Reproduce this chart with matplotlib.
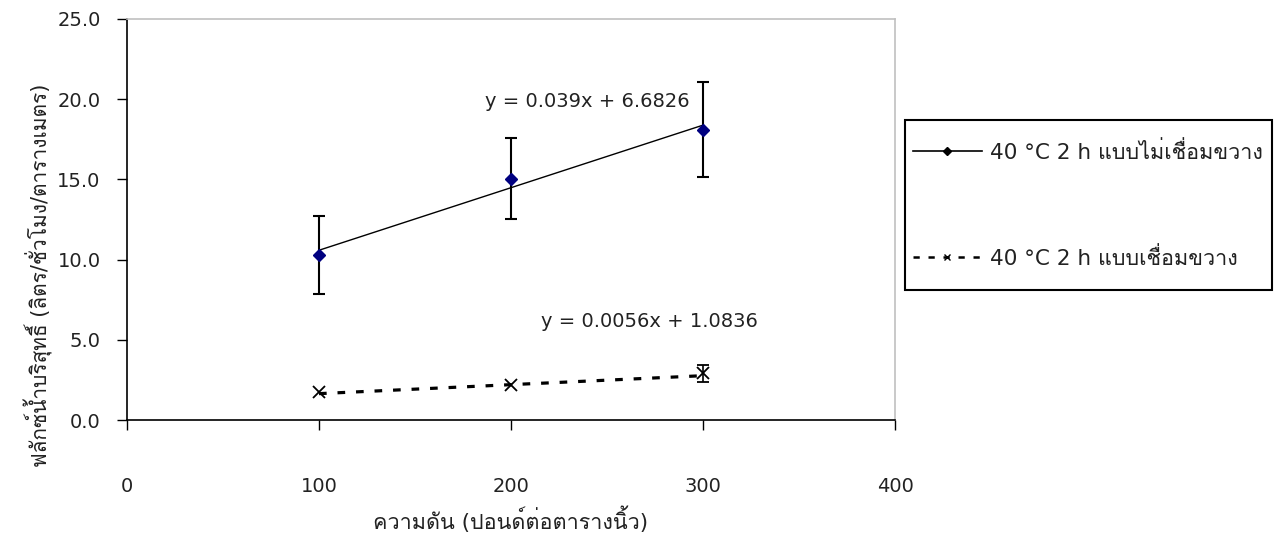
import matplotlib
matplotlib.use("Agg")
import matplotlib.pyplot as plt
from matplotlib import font_manager
from matplotlib.ft2font import FT2Font
from matplotlib.lines import Line2D
from matplotlib.patches import Rectangle


def find_thai_fonts():
    names = []
    for f in font_manager.fontManager.ttflist:
        try:
            cmap = FT2Font(f.fname).get_charmap()
        except Exception:
            continue
        if 0x0E01 in cmap and 0x0E49 in cmap and f.name not in names:
            names.append(f.name)
    return names


thai_fonts = find_thai_fonts()
FAMILY = ["DejaVu Sans"] + thai_fonts[:1]
plt.rcParams["font.family"] = FAMILY

# pressure (psi)
pressure = [100, 200, 300]

# pure water flux, non-crosslinked membrane
flux_nc = [10.3, 15.05, 18.1]
err_nc = [2.43, 2.53, 2.98]
slope_nc, icpt_nc = 0.039, 6.6826

# pure water flux, crosslinked membrane
flux_c = [1.75, 2.18, 2.91]
err_c = [0.0, 0.0, 0.53]
slope_c, icpt_c = 0.0056, 1.0836

label_nc = "40 °C 2 h แบบไม่เชื่อมขวาง"
label_c = "40 °C 2 h แบบเชื่อมขวาง"
eq_nc = "y = 0.039x + 6.6826"
eq_c = "y = 0.0056x + 1.0836"
xlabel = "ความดัน (ปอนด์ต่อตารางนิ้ว)"
ylabel = "ฟลักซ์น้ำบริสุทธิ์ (ลิตร/ชั่วโมง/ตารางเมตร)"
xticks = [0, 100, 200, 300, 400]
yticks = [0.0, 5.0, 10.0, 15.0, 20.0, 25.0]

TXT = "#222222"
W, H = 1282, 534

fig = plt.figure(figsize=(W / 100, H / 100), dpi=100)
ax = fig.add_axes([127 / W, 1 - 420 / H, 768 / W, 401 / H])

# linear trend lines
fit_nc = [slope_nc * x + icpt_nc for x in pressure]
fit_c = [slope_c * x + icpt_c for x in pressure]
ax.plot(pressure, fit_nc, color="black", lw=1.0, zorder=2)
ax.plot(pressure, fit_c, color="black", lw=2.3, dashes=(2.4, 3.4), zorder=2)

# measured points with error bars
ax.errorbar(pressure, flux_nc, yerr=err_nc, fmt="D", ms=6.5, color="#000080",
            ecolor="black", elinewidth=1.5, capsize=4.5, capthick=1.5, zorder=3)
ax.errorbar(pressure, flux_c, yerr=err_c, fmt="x", ms=8, mew=1.3, color="black",
            ecolor="black", elinewidth=1.2, capsize=4.5, capthick=1.2, zorder=3,
            errorevery=[e > 0 for e in err_c])

ax.text(293.2, 19.83, eq_nc, ha="right", va="center", fontsize=14, color=TXT)
ax.text(328.6, 6.17, eq_c, ha="right", va="center", fontsize=14, color=TXT)

ax.set_xlim(0, 400)
ax.set_ylim(0, 25)
ax.set_xticks(xticks)
ax.set_yticks(yticks)
ax.set_xticklabels([f"{v:d}" for v in xticks])
ax.set_yticklabels([f"{v:.1f}" for v in yticks])

for side in ("top", "right"):
    ax.spines[side].set_color("#c0c0c0")
    ax.spines[side].set_linewidth(1.2)
for side in ("left", "bottom"):
    ax.spines[side].set_color("black")
    ax.spines[side].set_linewidth(1.2)

ax.tick_params(axis="y", direction="out", length=7, width=1.0, pad=12,
               labelsize=14, colors="black", labelcolor=TXT)
ax.tick_params(axis="x", direction="out", length=7, width=1.0, pad=34,
               labelsize=14, colors="black", labelcolor=TXT)

ax.set_xlabel(xlabel, fontsize=15.5, color=TXT)
ax.set_ylabel(ylabel, fontsize=15, color=TXT)
ax.xaxis.set_label_coords(0.5, -0.2145)
ax.yaxis.set_label_coords(-0.096, 0.36)

# legend entries with a separate outline box
handles = [
    Line2D([], [], color="black", lw=1.2, marker="D", ms=4.5, mfc="black", mec="black"),
    Line2D([], [], color="black", lw=1.8, dashes=(2.5, 3.5), marker="x", ms=5, mew=1.0),
]
leg = fig.legend(handles, [label_nc, label_c], loc="center left",
                 bbox_to_anchor=(913 / W, 1 - 205 / H), fontsize=15.5,
                 frameon=False, labelspacing=3.9, borderpad=0, handlelength=3.2,
                 handletextpad=0.37, borderaxespad=0)
for t in leg.get_texts():
    t.set_color(TXT)
fig.patches.append(Rectangle((905 / W, 1 - 290 / H), 367 / W, 170 / H,
                             transform=fig.transFigure, fill=False,
                             edgecolor="black", linewidth=1.5))

fig.savefig("out.png", dpi=100)
